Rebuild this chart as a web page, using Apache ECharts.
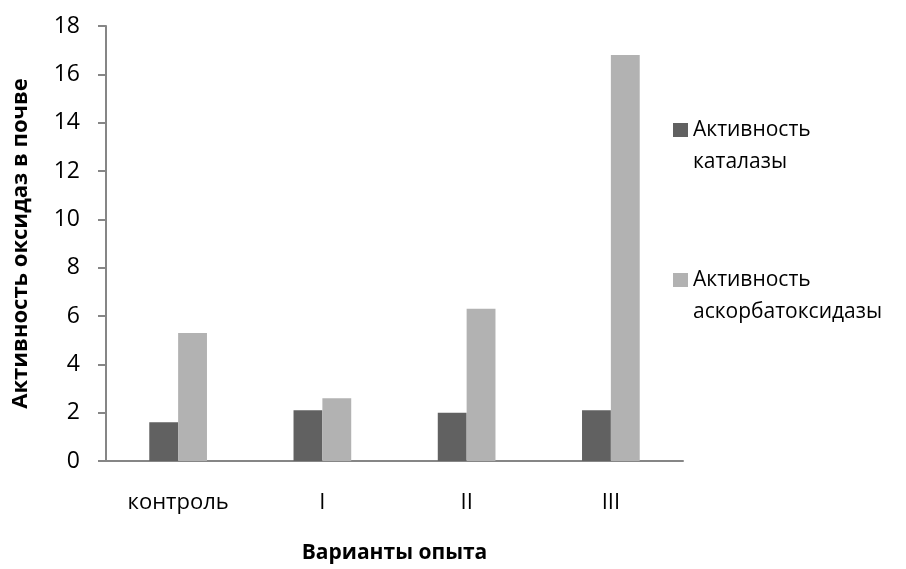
<!DOCTYPE html>
<html>
<head>
<meta charset="utf-8">
<script src="https://cdn.jsdelivr.net/npm/echarts@6/dist/echarts.min.js"></script>
<style>
  html, body { margin: 0; padding: 0; background: #fff; }
  #main { width: 906px; height: 569px; }
</style>
</head>
<body>
<div id="main"></div>
<script>
const categories = ["контроль", "I", "II", "III"];
const catalase = [1.6, 2.1, 2.0, 2.1];
const ascorbate = [5.3, 2.6, 6.3, 16.8];
const seriesNames = ["Активность\nкаталазы", "Активность\nаскорбатоксидазы"];

const font = "Open Sans";
const chart = echarts.init(document.getElementById("main"));

const options = {
  animation: false,
  textStyle: { fontFamily: font },
  grid: { left: 106, right: 223, top: 26, bottom: 106 },
  legend: {
    orient: "vertical",
    left: 673,
    top: 82,
    padding: 0,
    itemWidth: 15,
    itemHeight: 14,
    itemGap: 54,
    icon: "rect",
    data: seriesNames,
    // empty first line so the icon sits beside the first text line
    formatter: (name) => "\n" + name,
    textStyle: {
      fontFamily: font,
      fontSize: 21,
      color: "#000",
      lineHeight: 32,
    },
  },
  xAxis: {
    type: "category",
    data: categories,
    name: "Варианты опыта",
    nameLocation: "middle",
    nameGap: 82,
    nameTextStyle: { fontFamily: font, fontSize: 21, fontWeight: "bold", color: "#000" },
    axisLine: { lineStyle: { color: "#868686", width: 2 } },
    axisTick: { show: false },
    axisLabel: { fontFamily: font, fontSize: 22, color: "#000", margin: 31 },
  },
  yAxis: {
    type: "value",
    min: 0,
    max: 18,
    interval: 2,
    name: "Активность оксидаз в почве",
    nameLocation: "middle",
    nameGap: 74,
    nameTextStyle: { fontFamily: font, fontSize: 22, fontWeight: "bold", color: "#000" },
    axisLine: { show: true, lineStyle: { color: "#868686", width: 2 } },
    axisTick: { show: true, length: 8, lineStyle: { color: "#868686", width: 2 } },
    splitLine: { show: false },
    axisLabel: { fontFamily: font, fontSize: 23, color: "#000", margin: 26 },
  },
  series: [
    {
      name: seriesNames[0],
      type: "bar",
      data: catalase,
      barGap: "0%",
      barCategoryGap: "60%",
      itemStyle: { color: "#616161" },
    },
    {
      name: seriesNames[1],
      type: "bar",
      data: ascorbate,
      itemStyle: { color: "#b2b2b2" },
    },
  ],
};
chart.setOption(options);
</script>
</body>
</html>
